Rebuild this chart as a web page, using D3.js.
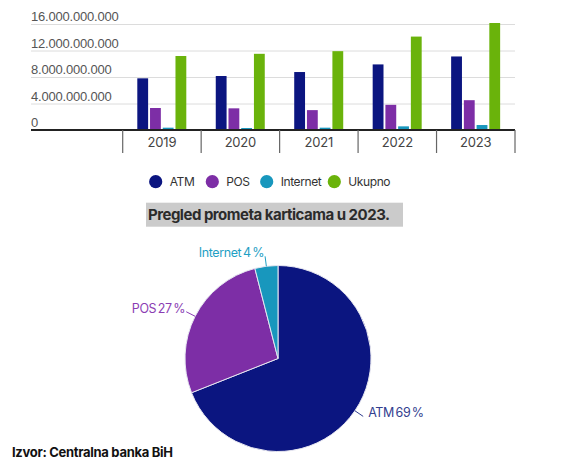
<!DOCTYPE html>
<html>
<head>
<meta charset="utf-8">
<script src="https://cdn.jsdelivr.net/npm/d3@7"></script>
<style>
  body { margin: 0; background: #fff; }
  svg { display: block; font-family: Inter, "Noto Sans", sans-serif; }
  .y-axis text, .x-axis text { letter-spacing: -0.2px; }
  .legend text, .pie-label { letter-spacing: -0.4px; }
</style>
</head>
<body>
<div id="chart"></div>
<script>
// data
var years = ["2019", "2020", "2021", "2022", "2023"];
var seriesNames = ["ATM", "POS", "Internet", "Ukupno"];
var atmValues = [7.8e9, 8.15e9, 8.75e9, 9.9e9, 11.1e9];
var posValues = [3.32e9, 3.27e9, 3.0e9, 3.8e9, 4.5e9];
var internetValues = [0.35e9, 0.3e9, 0.35e9, 0.55e9, 0.75e9];
var ukupnoValues = [11.17e9, 11.5e9, 11.9e9, 14.1e9, 16.15e9];
var yTicks = [0, 4e9, 8e9, 12e9, 16e9];

var pieNames = ["ATM", "POS", "Internet"];
var pieShares = [69, 27, 4];

var colors = ["#0b1580", "#7d2ea6", "#1897bd", "#6ab30b"];
var labelColors = ["#33408f", "#8b3db3", "#1fa0c4"];

var seriesValues = [atmValues, posValues, internetValues, ukupnoValues];

var W = 571, H = 469;
var svg = d3.select("#chart").append("svg")
    .attr("width", W)
    .attr("height", H);

var fmt = d3.formatLocale({ decimal: ",", thousands: ".", grouping: [3], currency: ["", ""] }).format(",d");

// ---- bar chart ----
var plotLeft = 31, plotRight = 515, plotTop = 24, base = 130;

var y = d3.scaleLinear()
    .domain([0, 16e9])
    .range([base, plotTop]);

var x0 = d3.scaleBand()
    .domain(years)
    .range([122.7, plotRight]);

var x1 = d3.scaleBand()
    .domain(seriesNames)
    .range([14.6, 63.6])
    .paddingInner(0.15);

var yAxis = d3.axisRight(y).tickValues(yTicks).tickSize(plotRight - plotLeft).tickFormat(fmt);

var yg = svg.append("g")
    .attr("class", "y-axis")
    .attr("transform", "translate(" + plotLeft + ",0)")
    .call(yAxis);
yg.select(".domain").remove();
yg.selectAll(".tick line").attr("stroke", "#dcdcdc");
yg.selectAll(".tick text")
    .attr("x", 0)
    .attr("dy", -3.5)
    .attr("fill", "#555")
    .style("font-size", "13px")
    .style("text-anchor", "start");

var groups = svg.append("g")
    .attr("class", "d3-bars")
    .selectAll("g")
    .data(years)
    .enter()
    .append("g")
    .attr("transform", function(d) { return "translate(" + x0(d) + ",0)"; });

groups.selectAll("rect")
    .data(function(d, i) { return seriesNames.map(function(s, j) { return { name: s, value: seriesValues[j][i], idx: j }; }); })
    .enter()
    .append("rect")
    .attr("x", function(d) { return x1(d.name); })
    .attr("width", x1.bandwidth())
    .attr("y", function(d) { return y(d.value); })
    .attr("height", function(d) { return base - y(d.value); })
    .attr("fill", function(d) { return colors[d.idx]; });

// baseline and category axis
svg.append("line")
    .attr("x1", plotLeft).attr("x2", plotRight)
    .attr("y1", base).attr("y2", base)
    .attr("stroke", "#222")
    .attr("stroke-width", 2);

var xg = svg.append("g").attr("class", "x-axis");
var bounds = years.map(function(d) { return x0(d); }).concat([x0.range()[1]]);
xg.selectAll("line")
    .data(bounds)
    .enter()
    .append("line")
    .attr("x1", function(d) { return d; }).attr("x2", function(d) { return d; })
    .attr("y1", base).attr("y2", base + 23)
    .attr("stroke", "#666")
    .attr("stroke-width", 1.2);
xg.selectAll("text")
    .data(years)
    .enter()
    .append("text")
    .attr("x", function(d) { return x0(d) + x0.bandwidth() / 2; })
    .attr("y", base + 16.5)
    .attr("text-anchor", "middle")
    .attr("fill", "#444")
    .style("font-size", "13px")
    .text(function(d) { return d; });

// legend
var legendX = [155.7, 212.3, 266.7, 334.3];
var legend = svg.append("g").attr("class", "legend")
    .selectAll("g")
    .data(seriesNames)
    .enter()
    .append("g")
    .attr("transform", function(d, i) { return "translate(" + legendX[i] + ",181.7)"; });
legend.append("circle")
    .attr("r", 6.6)
    .attr("fill", function(d, i) { return colors[i]; });
legend.append("text")
    .attr("x", 14)
    .attr("y", 4.3)
    .attr("fill", "#333")
    .style("font-size", "12px")
    .text(function(d) { return d; });

// title with grey box
svg.append("rect")
    .attr("x", 146).attr("y", 202.7)
    .attr("width", 257).attr("height", 24)
    .attr("fill", "#cbcbcb");
svg.append("text")
    .attr("x", 148)
    .attr("y", 220)
    .attr("fill", "#2b2b2b")
    .style("font-size", "15px")
    .style("font-weight", "bold")
    .style("letter-spacing", "-0.5px")
    .text("Pregled prometa karticama u 2023.");

// ---- pie ----
var cx = 278, cy = 358.5, r = 93;
var pie = d3.pie().sort(null).value(function(d) { return d; });
var arcs = pie(pieShares);
var arc = d3.arc().innerRadius(0).outerRadius(r);

var pg = svg.append("g")
    .attr("class", "d3-pie")
    .attr("transform", "translate(" + cx + "," + cy + ")");

pg.selectAll("path")
    .data(arcs)
    .enter()
    .append("path")
    .attr("d", arc)
    .attr("fill", function(d, i) { return colors[i]; })
    .attr("stroke", "#e6e6f0")
    .attr("stroke-width", 1);

function mid(d) { return (d.startAngle + d.endAngle) / 2; }
function pt(a, rad) { return [Math.sin(a) * rad, -Math.cos(a) * rad]; }

pg.selectAll(".leader")
    .data(arcs)
    .enter()
    .append("line")
    .attr("class", "leader")
    .attr("x1", function(d) { return pt(mid(d), r)[0]; })
    .attr("y1", function(d) { return pt(mid(d), r)[1]; })
    .attr("x2", function(d) { return pt(mid(d), r + 10)[0]; })
    .attr("y2", function(d) { return pt(mid(d), r + 10)[1]; })
    .attr("stroke", function(d, i) { return labelColors[i]; })
    .attr("stroke-width", 1);

pg.selectAll(".pie-label")
    .data(arcs)
    .enter()
    .append("text")
    .attr("class", "pie-label")
    .attr("x", function(d) { var p = pt(mid(d), r + 10); return Math.sin(mid(d)) > 0 ? p[0] + 5 : p[0] - 1; })
    .attr("y", function(d) { return pt(mid(d), r + 10)[1] + 1; })
    .attr("text-anchor", function(d) { return Math.sin(mid(d)) > 0 ? "start" : "end"; })
    .attr("fill", function(d, i) { return labelColors[i]; })
    .style("font-size", "12.5px")
    .style("word-spacing", "-1.5px")
    .text(function(d, i) { return pieNames[i] + " " + pieShares[i] + " %"; });

// source
svg.append("text")
    .attr("x", 12)
    .attr("y", 457)
    .attr("fill", "#111")
    .style("font-size", "13px")
    .style("font-weight", "bold")
    .style("letter-spacing", "-0.3px")
    .text("Izvor: Centralna banka BiH");
</script>
</body>
</html>
